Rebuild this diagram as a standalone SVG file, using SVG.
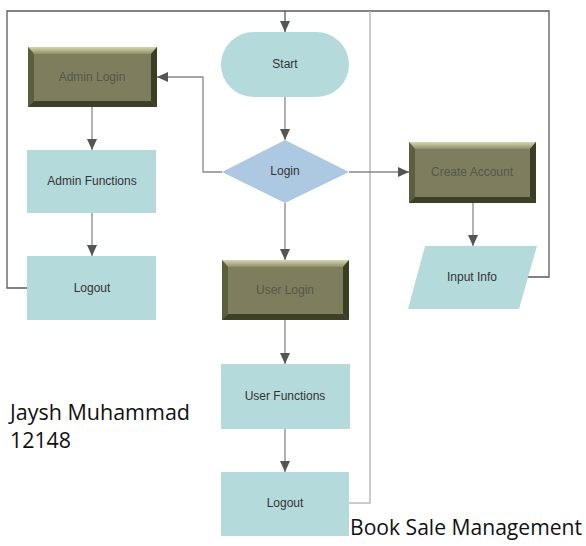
<svg xmlns="http://www.w3.org/2000/svg" width="586" height="546" viewBox="0 0 586 546">
<style>
.t{font-family:"Liberation Sans",Arial,sans-serif;font-size:12px;fill:#333;text-anchor:middle;dominant-baseline:central}
.tb{font-family:"Liberation Sans",Arial,sans-serif;font-size:12px;fill:#56564a;text-anchor:middle;dominant-baseline:central}
.big{font-family:"Open Sans","Noto Sans",sans-serif;font-size:21px;fill:#111}
.teal{fill:#b5dadb}
.face{fill:#7e7e5e}
.bt{fill:#c2c29a}
.bl{fill:#5c5e40}
.br{fill:#3b3d25}
.bb{fill:#3e4026}
.ln{fill:none;stroke:#888;stroke-width:1.3}
.dk{fill:none;stroke:#5a5a5a;stroke-width:1.3}
.lt{fill:none;stroke:#bbb;stroke-width:1.5}
</style>
<defs>
<marker id="ah" markerWidth="12" markerHeight="12" refX="11" refY="5" orient="auto" markerUnits="userSpaceOnUse">
<path d="M0,0 L11,5 L0,10 z" fill="#555"/>
</marker>
<linearGradient id="gt" x1="0" y1="0" x2="0" y2="1">
<stop offset="0" stop-color="#d6d6b0"/><stop offset="1" stop-color="#8e8e6a"/>
</linearGradient>
</defs>
<g id="connectors">
<path class="dk" d="M27,288 H7 V11 H549 V277 H528"/>
<path class="dk" d="M285,11 V32" marker-end="url(#ah)"/>
<path class="lt" d="M349,503 H370 V11"/>
<path class="ln" d="M285,97 V140" marker-end="url(#ah)"/>
<path class="ln" d="M222,172 H203 V77 H157" marker-end="url(#ah)"/>
<path class="ln" d="M349,172 H409" marker-end="url(#ah)"/>
<path class="ln" d="M473,203 V246" marker-end="url(#ah)"/>
<path class="ln" d="M285,203 V260" marker-end="url(#ah)"/>
<path class="ln" d="M285,320 V364" marker-end="url(#ah)"/>
<path class="ln" d="M285,429 V472" marker-end="url(#ah)"/>
<path class="ln" d="M92,107 V150" marker-end="url(#ah)"/>
<path class="ln" d="M92,213 V256" marker-end="url(#ah)"/>
</g>
<g id="start">
<rect class="teal" x="221" y="32" width="128" height="65" rx="32.5"/>
<text class="t" x="285" y="64">Start</text>
</g>
<g id="login">
<polygon points="222,172 285,140 349,172 285,203" fill="#adc9e1"/>
<text class="t" x="285" y="171">Login</text>
</g>
<g id="admin-login">
<rect class="face" x="28" y="47" width="129" height="60"/>
<polygon points="28,47 157,47 151,54 34,54" fill="url(#gt)"/>
<polygon class="bl" points="28,47 34,54 34,101 28,107"/>
<polygon class="br" points="157,47 157,107 151,101 151,54"/>
<polygon class="bb" points="28,107 157,107 151,101 34,101"/>
<text class="tb" x="92" y="77">Admin Login</text>
</g>
<g id="admin-functions">
<rect class="teal" x="27" y="150" width="129" height="63"/>
<text class="t" x="92" y="181">Admin Functions</text>
</g>
<g id="admin-logout">
<rect class="teal" x="27" y="256" width="129" height="64"/>
<text class="t" x="92" y="288">Logout</text>
</g>
<g id="create-account">
<rect class="face" x="409" y="142" width="127" height="61"/>
<polygon points="409,142 536,142 530,149 415,149" fill="url(#gt)"/>
<polygon class="bl" points="409,142 415,149 415,197 409,203"/>
<polygon class="br" points="536,142 536,203 530,197 530,149"/>
<polygon class="bb" points="409,203 536,203 530,197 415,197"/>
<text class="tb" x="472" y="172">Create Account</text>
</g>
<g id="input-info">
<polygon class="teal" points="425,246 537,246 519,309 408,309"/>
<text class="t" x="472" y="277">Input Info</text>
</g>
<g id="user-login">
<rect class="face" x="222" y="260" width="127" height="60"/>
<polygon points="222,260 349,260 343,267 228,267" fill="url(#gt)"/>
<polygon class="bl" points="222,260 228,267 228,314 222,320"/>
<polygon class="br" points="349,260 349,320 343,314 343,267"/>
<polygon class="bb" points="222,320 349,320 343,314 228,314"/>
<text class="tb" x="285" y="290">User Login</text>
</g>
<g id="user-functions">
<rect class="teal" x="221" y="364" width="129" height="65"/>
<text class="t" x="285" y="396">User Functions</text>
</g>
<g id="user-logout">
<rect class="teal" x="221" y="472" width="128" height="64"/>
<text class="t" x="285" y="503">Logout</text>
</g>
<text class="big" x="10" y="420" textLength="180" lengthAdjust="spacingAndGlyphs">Jaysh Muhammad</text>
<text class="big" x="10" y="448" textLength="61" lengthAdjust="spacingAndGlyphs">12148</text>
<text class="big" x="350" y="535" textLength="232" lengthAdjust="spacingAndGlyphs">Book Sale Management</text>
</svg>
